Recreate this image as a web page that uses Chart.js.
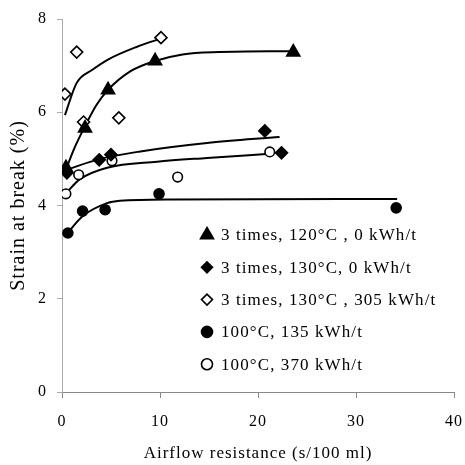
<!DOCTYPE html>
<html>
<head>
<meta charset="utf-8">
<script src="https://cdn.jsdelivr.net/npm/chart.js"></script>
<style>
  html, body { margin: 0; padding: 0; background: #fff; }
</style>
</head>
<body>
<canvas id="chart" width="465" height="465"></canvas>
<script>
// legend labels
const seriesLabels = [
  '3 times, 120°C , 0 kWh/t',
  '3 times, 130°C, 0 kWh/t',
  '3 times, 130°C , 305 kWh/t',
  '100°C, 135 kWh/t',
  '100°C, 370 kWh/t'
];

// measured points: airflow resistance (s/100 ml) and strain at break (%)
const tri120X = [0.4, 2.35, 4.7, 9.5, 23.6];
const tri120Y = [4.81, 5.66, 6.48, 7.10, 7.29];
const dia130X = [0.5, 3.8, 5.0, 20.7, 22.4];
const dia130Y = [4.70, 4.98, 5.09, 5.60, 5.13];
const dia305X = [0.3, 1.5, 2.2, 5.8, 10.1];
const dia305Y = [6.39, 7.29, 5.79, 5.88, 7.60];
const c135X = [0.6, 2.1, 4.4, 9.9, 34.1];
const c135Y = [3.41, 3.88, 3.91, 4.25, 3.95];
const c370X = [0.4, 1.7, 5.1, 11.8, 21.2];
const c370Y = [4.25, 4.66, 4.96, 4.61, 5.15];

// fitted trend curves
const fit120X = [0.5, 1.2, 2.3, 3.5, 4.7, 7.0, 9.5, 12.3, 16.0, 23.6];
const fit120Y = [4.82, 5.20, 5.68, 6.15, 6.48, 6.88, 7.10, 7.24, 7.29, 7.31];
const fit130X = [0.5, 3.9, 8.0, 14.8, 22.2];
const fit130Y = [4.77, 5.00, 5.16, 5.34, 5.47];
const fit305X = [0.3, 1.5, 3.1, 4.6, 7.6, 10.4];
const fit305Y = [5.94, 6.63, 6.91, 7.12, 7.40, 7.60];
const fit135X = [0.6, 2.1, 4.6, 5.9, 11.3, 34.2];
const fit135Y = [3.42, 3.77, 4.05, 4.10, 4.13, 4.14];
const fit370X = [0.4, 1.8, 4.6, 9.7, 14.8, 21.2];
const fit370Y = [4.26, 4.56, 4.81, 4.94, 5.02, 5.11];

const xTicks = [0, 10, 20, 30, 40];
const yTicks = [0, 2, 4, 6, 8];

const toXY = (xs, ys) => xs.map((x, i) => ({ x, y: ys[i] }));

const markers = [
  { style: 'triangle', radius: 7.5, fill: '#000', pts: [tri120X, tri120Y], fit: [fit120X, fit120Y] },
  { style: 'rectRot', radius: 6, fill: '#000', pts: [dia130X, dia130Y], fit: [fit130X, fit130Y] },
  { style: 'rectRot', radius: 6, fill: '#fff', pts: [dia305X, dia305Y], fit: [fit305X, fit305Y] },
  { style: 'circle', radius: 5, fill: '#000', pts: [c135X, c135Y], fit: [fit135X, fit135Y] },
  { style: 'circle', radius: 4.8, fill: '#fff', pts: [c370X, c370Y], fit: [fit370X, fit370Y] }
];

const datasets = [];
markers.forEach((m, i) => {
  datasets.push({
    label: seriesLabels[i] + ' fit',
    data: toXY(m.fit[0], m.fit[1]),
    showLine: true,
    cubicInterpolationMode: 'monotone',
    borderColor: '#000',
    borderWidth: 2,
    pointRadius: 0,
    order: 2
  });
  datasets.push({
    label: seriesLabels[i],
    data: toXY(m.pts[0], m.pts[1]),
    showLine: false,
    pointStyle: m.style,
    pointRadius: m.radius,
    pointBackgroundColor: m.fill,
    pointBorderColor: '#000',
    pointBorderWidth: 1.6,
    order: 1
  });
});

const FONT = 'Liberation Serif';

// the old print style: slightly spaced-out letters everywhere
const spacedText = {
  id: 'spacedText',
  beforeDraw(chart) { chart.ctx.save(); chart.ctx.letterSpacing = '1px'; },
  afterDraw(chart) { chart.ctx.restore(); }
};

// legend drawn inside the plot, lower right
const insideLegend = {
  id: 'insideLegend',
  afterDraw(chart) {
    const ctx = chart.ctx;
    ctx.save();
    ctx.font = '17px "' + FONT + '"';
    ctx.letterSpacing = '1.1px';
    ctx.textBaseline = 'middle';
    markers.forEach((m, i) => {
      const y = 235 + i * 32.3;
      ctx.fillStyle = m.fill;
      ctx.strokeStyle = '#000';
      ctx.lineWidth = 1.6;
      Chart.helpers.drawPoint(ctx, { pointStyle: m.style, radius: m.style === 'triangle' ? 7.5 : 5.5, borderWidth: 1.6, rotation: 0 }, 207, y);
      ctx.fillStyle = '#000';
      ctx.fillText(seriesLabels[i], 221, y + 1);
    });
    ctx.restore();
  }
};

new Chart(document.getElementById('chart'), {
  type: 'scatter',
  data: { datasets },
  plugins: [spacedText, insideLegend],
  options: {
    responsive: false,
    animation: false,
    layout: { padding: { left: 0, top: 19, right: 11, bottom: 0 } },
    plugins: { legend: { display: false }, tooltip: { enabled: false } },
    scales: {
      x: {
        type: 'linear',
        min: 0, max: 40,
        afterBuildTicks: (s) => { s.ticks = xTicks.map(v => ({ value: v })); },
        afterFit: (s) => { s.height = 73; s.paddingLeft = 0; s.paddingRight = 0; },
        border: { color: '#888', width: 1 },
        grid: { drawOnChartArea: false, drawTicks: true, tickLength: 6, color: '#888' },
        ticks: { color: '#000', padding: 14, font: { family: FONT, size: 16 } },
        title: { display: true, text: 'Airflow resistance (s/100 ml)', color: '#000', padding: { top: 0, bottom: 1 }, font: { family: FONT, size: 17 } }
      },
      y: {
        min: 0, max: 8,
        afterBuildTicks: (s) => { s.ticks = yTicks.map(v => ({ value: v })); },
        afterFit: (s) => { s.width = 62; s.paddingTop = 0; s.paddingBottom = 0; },
        border: { color: '#aaa', width: 1 },
        grid: { drawOnChartArea: false, drawTicks: true, tickLength: 5, color: '#aaa' },
        ticks: { color: '#000', padding: 10, font: { family: FONT, size: 16 } },
        title: { display: true, text: 'Strain at break (%)', color: '#000', padding: { top: 7, bottom: 0 }, font: { family: FONT, size: 20 } }
      }
    }
  }
});
</script>
</body>
</html>
